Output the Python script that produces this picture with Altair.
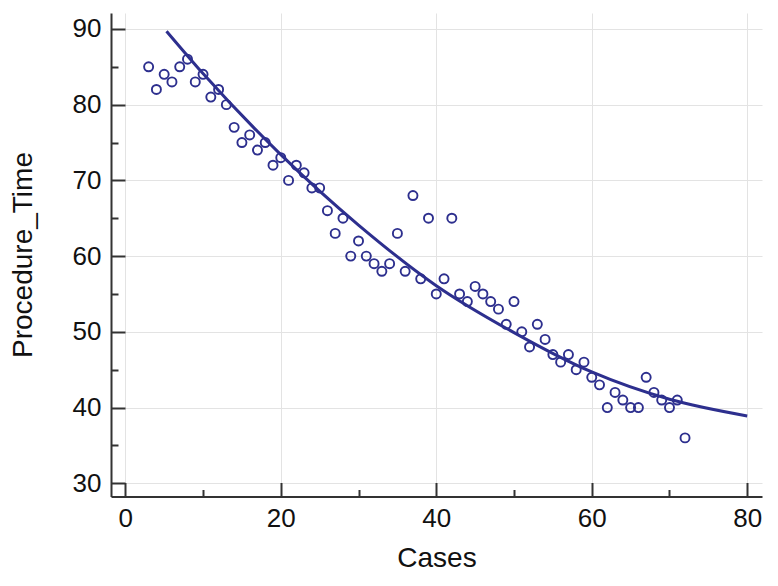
import altair as alt
import pandas as pd

cases = [3, 4, 5, 6, 7, 8, 9, 10, 11, 12, 13, 14, 15, 16, 17, 18, 19, 20, 21, 22,
         23, 24, 25, 26, 27, 28, 29, 30, 31, 32, 33, 34, 35, 36, 37, 38, 39, 40, 41, 42,
         43, 44, 45, 46, 47, 48, 49, 50, 51, 52, 53, 54, 55, 56, 57, 58, 59, 60, 61, 62,
         63, 64, 65, 66, 67, 68, 69, 70, 71, 72]
procedure_time = [85, 82, 84, 83, 85, 86, 83, 84, 81, 82, 80, 77, 75, 76, 74, 75, 72, 73, 70, 72,
                  71, 69, 69, 66, 63, 65, 60, 62, 60, 59, 58, 59, 63, 58, 68, 57, 65, 55, 57, 65,
                  55, 54, 56, 55, 54, 53, 51, 54, 50, 48, 51, 49, 47, 46, 47, 45, 46, 44, 43, 40,
                  42, 41, 40, 40, 44, 42, 41, 40, 41, 36]

# fitted curve
curve_cases = [5.3, 10, 20, 30, 40, 50, 60, 70, 80]
curve_time = [89.7, 84.1, 73.4, 64.1, 56.1, 49.9, 44.7, 41.1, 38.9]

x_major = [0, 20, 40, 60, 80]
x_minor = [10, 30, 50, 70]
y_major = [30, 40, 50, 60, 70, 80, 90]
y_minor = [35, 45, 55, 65, 75, 85]

df = pd.DataFrame({"Cases": cases, "Procedure_Time": procedure_time})
cf = pd.DataFrame({"Cases": curve_cases, "Procedure_Time": curve_time})

NAVY = "#2D2F8E"
FONT = "Liberation Sans"
xs = alt.Scale(domain=[-1.84, 81.9], nice=False, zero=False)
ys = alt.Scale(domain=[28.26, 92.1], nice=False, zero=False)

points = alt.Chart(df).mark_point(shape="circle", filled=False, color=NAVY, size=82, strokeWidth=1.9, opacity=1).encode(
    x=alt.X("Cases:Q", scale=xs, axis=alt.Axis(
        orient="bottom", values=x_major, ticks=False, tickSize=0, domain=True, domainColor="#333333",
        domainWidth=2, grid=True, gridColor="#e3e3e3", gridWidth=1, labelPadding=9,
        labelFontSize=26, labelFont=FONT, labelColor="#111111", title="Cases",
        titleFont=FONT, titleFontSize=28, titleFontWeight="normal", titleColor="#111111",
        titleY=62, titleBaseline="middle")),
    y=alt.Y("Procedure_Time:Q", scale=ys, axis=alt.Axis(
        orient="left", values=y_major, ticks=False, tickSize=0, domain=True, domainColor="#333333",
        domainWidth=2, grid=True, gridColor="#e3e3e3", gridWidth=1, labelPadding=10,
        labelFontSize=26, labelFont=FONT, labelColor="#111111", title="Procedure_Time",
        titleFont=FONT, titleFontSize=28, titleFontWeight="normal", titleColor="#111111",
        titleAngle=270, titleX=-88, titleY=241.5, titleBaseline="middle", titleAlign="center")),
)

fit = alt.Chart(cf).mark_line(color=NAVY, strokeWidth=3, interpolate="monotone").encode(
    x=alt.X("Cases:Q", scale=xs, axis=alt.Axis(
        orient="bottom", values=x_major, offset=-14, tickSize=14, tickWidth=2, tickColor="#333333",
        domain=False, labels=False, grid=False, title=None)),
    y=alt.Y("Procedure_Time:Q", scale=ys, axis=alt.Axis(
        orient="left", values=y_major, offset=-14, tickSize=14, tickWidth=2, tickColor="#333333",
        domain=False, labels=False, grid=False, title=None)),
)

minor = alt.Chart(df).mark_point(opacity=0).encode(
    x=alt.X("Cases:Q", scale=xs, axis=alt.Axis(
        orient="bottom", values=x_minor, offset=-7, tickSize=7, tickWidth=2, tickColor="#333333",
        domain=False, labels=False, grid=False, title=None)),
    y=alt.Y("Procedure_Time:Q", scale=ys, axis=alt.Axis(
        orient="left", values=y_minor, offset=-7, tickSize=7, tickWidth=2, tickColor="#333333",
        domain=False, labels=False, grid=False, title=None)),
)

chart = alt.layer(points, fit, minor).resolve_axis(
    x="independent", y="independent"
).properties(
    width=651, height=483.5,
    autosize=alt.AutoSizeParams(type="none"),
    padding={"left": 103, "top": 5, "right": 8, "bottom": 80},
    background="white",
).configure_view(stroke=None)

chart.save("out.html", embed_options={"renderer": "svg", "actions": False})
